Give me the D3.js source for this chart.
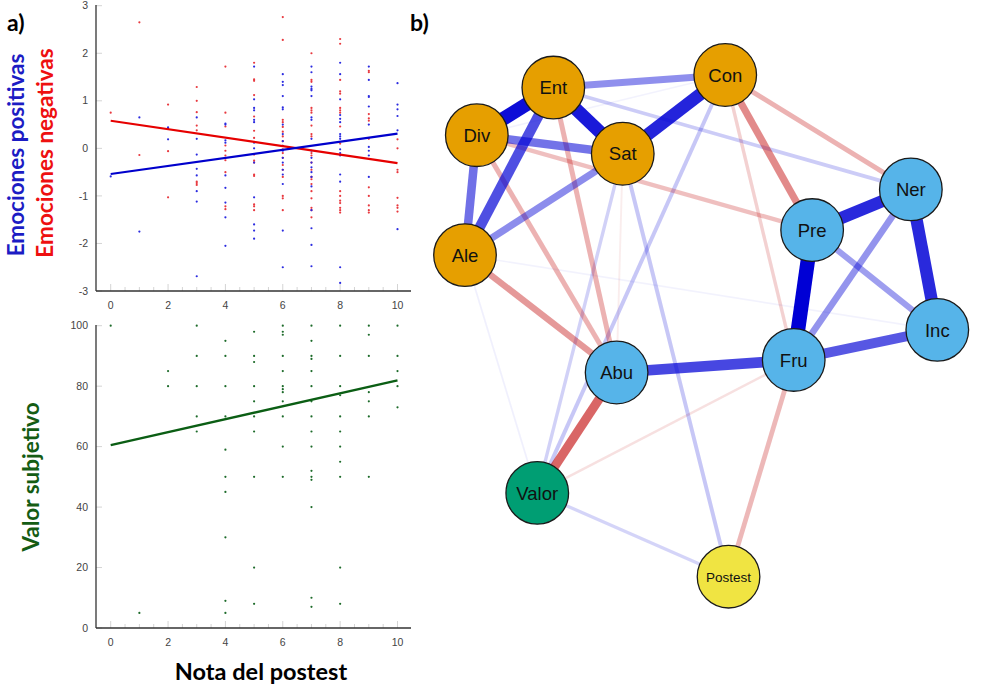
<!DOCTYPE html>
<html>
<head>
<meta charset="utf-8">
<script src="https://cdn.jsdelivr.net/npm/d3@7"></script>
<style>
  body { margin: 0; background: #fff; }
  svg { display: block; }
</style>
</head>
<body>
<svg id="fig" width="981" height="695"></svg>
<script>
// ---- panel a) data : values grouped by "Nota del postest" (0..10)
const notas = [0, 1, 2, 3, 4, 5, 6, 7, 8, 9, 10];

const positivas = [
  [-0.59],
  [0.65, -1.75],
  [0.44, 0.42, 0.19],
  [0.65, 0.2, -0.13, -0.43, -0.57, -0.9, -1.12, -2.69],
  [0.52, 0.5, 0.17, 0.12, -0.57, -0.83, -1.14, -1.45, -2.05],
  [1.72, 1.03, 0.85, 0.8, 0.6, 0.55, 0.12, 0.0, -0.3, -1.03, -1.6, -1.73, -1.9],
  [1.56, 1.4, 1.33, 1.1, 0.86, 0.82, 0.5, 0.3, 0.15, 0.05, -0.05, -0.2, -0.3, -0.45, -0.55, -0.75, -1.73, -2.5],
  [1.72, 1.6, 1.3, 1.25, 1.22, 1.1, 0.65, 0.6, 0.2, -0.05, -0.2, -0.3, -0.4, -0.5, -0.6, -0.8, -1.3, -1.68, -2.03, -2.48],
  [1.8, 1.56, 1.03, 0.7, 0.62, 0.55, 0.3, 0.25, 0.2, -0.02, -0.1, -0.15, -0.55, -0.7, -2.5, -2.83],
  [1.72, 1.44, 1.1, 1.08, 0.88, 0.5, 0.03, -0.05, -0.15, -0.6],
  [1.37, 0.92, 0.82, 0.68, 0.38, -1.7]
];

const negativas = [
  [0.75],
  [2.65, -0.14],
  [0.92, -0.06, -1.03],
  [1.29, 1.0, 0.76, 0.48, 0.38, -0.7, -0.73, -0.77],
  [1.72, 0.75, 0.46, 0.06, -0.05, -0.15, -0.25, -0.5, -1.22, -1.28],
  [1.8, 1.45, 1.42, 1.12, 0.67, 0.37, 0.22, -0.13, -0.26, -0.3, -0.55, -0.58, -1.18, -1.22, -1.3],
  [2.76, 2.28, 0.6, 0.55, 0.45, 0.35, 0.25, 0.15, 0.05, -0.02, -0.1, -0.2, -0.35, -0.45, -0.6, -1.0, -1.05, -1.3],
  [2.0, 1.44, 1.4, 0.85, 0.8, 0.75, 0.48, 0.3, 0.25, -0.1, -0.15, -0.3, -0.45, -0.6, -0.65, -0.75, -0.9, -1.05, -1.25, -1.3, -1.45],
  [2.3, 2.2, 1.44, 1.2, 1.15, 0.85, 0.8, 0.75, 0.46, 0.1, -0.9, -1.0, -1.1, -1.15, -1.25, -1.3, -1.35],
  [1.63, 1.6, 0.72, 0.63, 0.58, 0.2, -0.82, -1.0, -1.2, -1.3, -1.35],
  [0.19, 0.0, -0.45, -0.5, -1.04, -1.2, -1.25, -1.33]
];

const valorSubjetivo = [
  [100],
  [5],
  [85, 80],
  [100, 90, 80, 70, 65],
  [95, 90, 80, 70, 59, 50, 45, 30, 9, 5],
  [98, 90, 88, 80, 75, 70, 65, 50, 20, 8],
  [100, 98, 97, 90, 85, 80, 79, 78, 75, 70, 60, 50],
  [100, 95, 90, 89, 85, 80, 75, 70, 65, 60, 52, 50, 49, 40, 10, 7],
  [100, 90, 80, 77, 70, 65, 60, 55, 50, 20, 8],
  [100, 97, 90, 78, 75, 70, 50],
  [100, 90, 85, 80, 73]
];

// fitted lines: [value at nota 0, value at nota 10]
const ajustePositivas = [-0.54, 0.31];
const ajusteNegativas = [0.58, -0.31];
const ajusteValor = [60.5, 81.9];

const ticksEmociones = [-3, -2, -1, 0, 1, 2, 3];
const ticksValor = [0, 20, 40, 60, 80, 100];
const ticksNota = [0, 2, 4, 6, 8, 10];

// ---- panel b) network data
const nodos = ["Ent", "Div", "Sat", "Con", "Pre", "Ner", "Inc", "Fru", "Ale", "Abu", "Valor", "Postest"];
const grupos = ["pos", "pos", "pos", "pos", "neg", "neg", "neg", "neg", "pos", "neg", "valor", "nota"];
// spring layout, unit square
const layoutX = [0.187, 0.025, 0.334, 0.551, 0.735, 0.944, 1.0, 0.696, 0.0, 0.321, 0.153, 0.558];
const layoutY = [0.025, 0.12, 0.157, 0.0, 0.309, 0.228, 0.508, 0.568, 0.359, 0.593, 0.833, 1.0];

// partial correlations (edge weights, scaled to max 1)
const aristas = [
  ["Pre", "Fru", 1.0],
  ["Div", "Ent", 0.95],
  ["Ent", "Sat", 0.9],
  ["Sat", "Con", 0.86],
  ["Pre", "Ner", 0.84],
  ["Ner", "Inc", 0.84],
  ["Abu", "Fru", 0.72],
  ["Ent", "Ale", 0.69],
  ["Fru", "Inc", 0.66],
  ["Div", "Ale", 0.56],
  ["Div", "Sat", 0.55],
  ["Ent", "Con", 0.44],
  ["Sat", "Ale", 0.45],
  ["Ner", "Fru", 0.42],
  ["Pre", "Inc", 0.38],
  ["Ent", "Ner", 0.2],
  ["Con", "Valor", 0.22],
  ["Sat", "Postest", 0.22],
  ["Sat", "Valor", 0.18],
  ["Valor", "Postest", 0.17],
  ["Ale", "Valor", 0.06],
  ["Ale", "Inc", 0.05],
  ["Div", "Con", 0.05],
  ["Abu", "Valor", -0.6],
  ["Con", "Pre", -0.46],
  ["Ale", "Abu", -0.4],
  ["Div", "Abu", -0.3],
  ["Ent", "Abu", -0.3],
  ["Con", "Ner", -0.3],
  ["Div", "Pre", -0.25],
  ["Fru", "Postest", -0.28],
  ["Con", "Fru", -0.18],
  ["Valor", "Fru", -0.12],
  ["Sat", "Abu", -0.07]
];

const colorGrupo = { pos: "#E69F00", neg: "#56B4E9", valor: "#009E73", nota: "#F0E442" };

const svg = d3.select("#fig");
const tickFont = "'Liberation Sans', Arial, sans-serif";
const titleFont = "Lato, 'Open Sans', sans-serif";

// ================= panel a) =================
const x = d3.scaleLinear().domain([0, 10]).range([110.7, 397.5]);
const yEmo = d3.scaleLinear().domain([-3, 3]).range([291, 5.7]);
const yVal = d3.scaleLinear().domain([0, 100]).range([628, 325.7]);

function drawPanel(y, yTicks, top, bottom) {
  const g = svg.append("g");
  // x minor / major ticks (inside)
  const xt = d3.range(0, 10.01, 0.5);
  g.selectAll(".xt").data(xt).join("line")
    .attr("x1", d => x(d)).attr("x2", d => x(d))
    .attr("y1", bottom).attr("y2", d => bottom - (d % 2 === 0 ? 7 : 4))
    .attr("stroke", "#d4d4d4").attr("stroke-width", 1);
  g.selectAll(".yt").data(yTicks).join("line")
    .attr("x1", 96).attr("x2", 102)
    .attr("y1", d => y(d)).attr("y2", d => y(d))
    .attr("stroke", "#d4d4d4").attr("stroke-width", 1);
  // axes
  g.append("line").attr("x1", 96).attr("x2", 96).attr("y1", top).attr("y2", bottom)
    .attr("stroke", "#333").attr("stroke-width", 1.3);
  g.append("line").attr("x1", 96).attr("x2", 411).attr("y1", bottom).attr("y2", bottom)
    .attr("stroke", "#333").attr("stroke-width", 1.3);
  g.selectAll(".yl").data(yTicks).join("text")
    .attr("x", 88).attr("y", d => y(d)).attr("dy", "0.35em")
    .attr("text-anchor", "end")
    .attr("font-family", tickFont).attr("font-size", 10.5).attr("fill", "#444")
    .text(d => d);
  g.selectAll(".xl").data(ticksNota).join("text")
    .attr("x", d => x(d)).attr("y", bottom + 14).attr("dy", "0.35em")
    .attr("text-anchor", "middle")
    .attr("font-family", tickFont).attr("font-size", 10.5).attr("fill", "#444")
    .text(d => d);
  return g;
}

function drawPoints(g, y, series, color) {
  const pts = series.flatMap((vals, i) => vals.map(v => [notas[i], v]));
  g.append("g").selectAll("circle").data(pts).join("circle")
    .attr("cx", d => x(d[0])).attr("cy", d => y(d[1]))
    .attr("r", 1.1).attr("fill", color);
}

function drawFit(g, y, fit, color, w) {
  g.append("line")
    .attr("x1", x(0)).attr("y1", y(fit[0]))
    .attr("x2", x(10)).attr("y2", y(fit[1]))
    .attr("stroke", color).attr("stroke-width", w);
}

const gTop = drawPanel(yEmo, ticksEmociones, 5, 291);
drawPoints(gTop, yEmo, negativas, "#e8393f");
drawPoints(gTop, yEmo, positivas, "#2b2be0");
drawFit(gTop, yEmo, ajusteNegativas, "#e60000", 2.2);
drawFit(gTop, yEmo, ajustePositivas, "#0000cc", 2.2);

const gBot = drawPanel(yVal, ticksValor, 325, 628);
drawPoints(gBot, yVal, valorSubjetivo, "#1d6b2a");
drawFit(gBot, yVal, ajusteValor, "#0b5e14", 2.4);

// titles
svg.append("text").attr("x", 7).attr("y", 31)
  .attr("font-family", titleFont).attr("font-weight", 700).attr("font-size", 23)
  .text("a)");
svg.append("text").attr("x", 410).attr("y", 31)
  .attr("font-family", titleFont).attr("font-weight", 700).attr("font-size", 23)
  .text("b)");

function vLabel(text, cx, cy, color) {
  svg.append("text")
    .attr("transform", `translate(${cx},${cy}) rotate(-90)`)
    .attr("text-anchor", "middle").attr("dy", "0.35em")
    .attr("font-family", titleFont).attr("font-weight", 700).attr("font-size", 22.5)
    .attr("fill", color).text(text);
}
vLabel("Emociones positivas", 16, 155, "#1c1cc4");
vLabel("Emociones negativas", 45, 153, "#ee1010");
vLabel("Valor subjetivo", 31, 477, "#145c14");

svg.append("text").attr("x", 261).attr("y", 680)
  .attr("text-anchor", "middle")
  .attr("font-family", titleFont).attr("font-weight", 700).attr("font-size", 23.5)
  .attr("fill", "#000").text("Nota del postest");

// ================= panel b) =================
const nx = d3.scaleLinear().domain([0, 1]).range([465, 937.3]);
const ny = d3.scaleLinear().domain([0, 1]).range([75, 576.7]);
const nodeData = nodos.map((n, i) => ({ name: n, grupo: grupos[i], x: nx(layoutX[i]), y: ny(layoutY[i]) }));
const byName = Object.fromEntries(nodeData.map(d => [d.name, d]));

const edgeData = aristas.map(([a, b, w]) => ({ s: byName[a], t: byName[b], w }))
  .sort((p, q) => Math.abs(p.w) - Math.abs(q.w));

// qgraph-like: width and fading both follow |weight|
svg.append("g").selectAll("line").data(edgeData).join("line")
  .attr("x1", d => d.s.x).attr("y1", d => d.s.y)
  .attr("x2", d => d.t.x).attr("y2", d => d.t.y)
  .attr("stroke", d => d.w > 0 ? "#0000D5" : "#BF0000")
  .attr("stroke-opacity", d => Math.min(1, Math.abs(d.w)))
  .attr("stroke-width", d => 1 + Math.abs(d.w) * 13.5);

const node = svg.append("g").selectAll("g").data(nodeData).join("g")
  .attr("transform", d => `translate(${d.x},${d.y})`);
node.append("circle").attr("r", 31.3)
  .attr("fill", d => colorGrupo[d.grupo])
  .attr("stroke", "#1a1a1a").attr("stroke-width", 1.3);
node.append("text")
  .attr("text-anchor", "middle").attr("dy", "0.36em")
  .attr("font-family", tickFont)
  .attr("font-size", d => d.name === "Postest" ? 13.5 : 18.5)
  .attr("fill", "#111")
  .text(d => d.name);
</script>
</body>
</html>
